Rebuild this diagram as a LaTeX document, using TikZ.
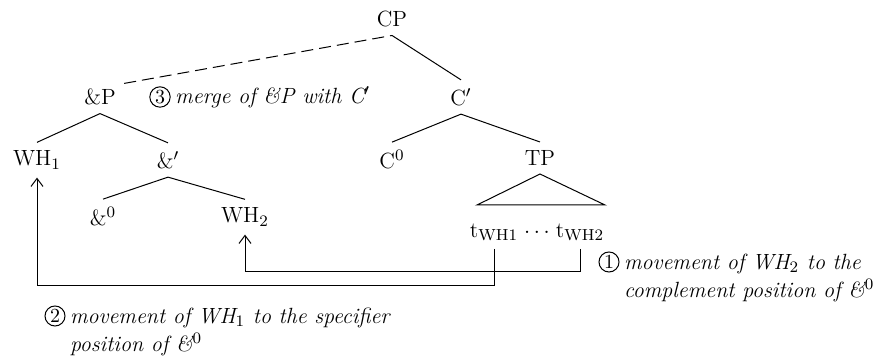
\documentclass[tikz,border=0pt]{standalone}
\usetikzlibrary{arrows.meta,positioning}
\begin{document}
\begin{tikzpicture}[x=0.5pt,y=-0.5pt,line width=0.5pt,
  font=\fontsize{11}{13}\selectfont,
  cat/.style={inner xsep=1pt,inner ysep=4pt},
  move/.style={-{Straight Barb[length=4pt,width=6pt]}},
  note/.style={font=\fontsize{11}{14}\selectfont\itshape,align=left,inner sep=0pt,anchor=north west},
  numc/.style={circle,draw,inner sep=0.6pt,font=\fontsize{10}{12}\selectfont}]
\useasboundingbox (0,0) rectangle (878,356);
% tree
\node[cat] (cp) at (392,19) {CP};
\node[cat] (cbar) at (461,97) {C$'$};
\node[cat] (andp) at (100,97) {\&P};
\node[cat] (wh1) at (37,160) {WH$_1$};
\node[cat] (andbar) at (168,160) {\&$'$};
\node[cat] (c0) at (392,160) {C$^0$};
\node[cat] (tp) at (540,158) {TP};
\node[cat] (and0) at (103,217) {\&$^0$};
\node[cat] (wh2) at (245,217) {WH$_2$};
\node[cat] (t1) at (494,232) {t$_{\mathrm{WH1}}$};
\node[cat] (dots) at (537,232) {$\ldots$};
\node[cat] (t2) at (580,232) {t$_{\mathrm{WH2}}$};
\draw (cp.south)--(cbar.north);
\draw (cbar.south)--(c0.north);
\draw (cbar.south)--(tp.north);
\draw (andp.south)--(wh1.north);
\draw (andp.south)--(andbar.north);
\draw (andbar.south)--(and0.north);
\draw (andbar.south)--(wh2.north);
\draw[dashed,dash pattern=on 6pt off 3pt] ([xshift=3pt,yshift=-1.5pt]andp.north east)--(cp.south);
\coordinate (tl) at (477,205);
\coordinate (tr) at (605,205);
\draw (tl)--(tp.south)--(tr)--cycle;
% movements
\coordinate (low1) at (0,286);
\coordinate (low2) at (0,272);
\draw[move] (t1.south)--(t1.south|-low1)-|(wh1.south);
\draw[move] (t2.south)--(t2.south|-low2)-|(wh2.south);
% notes
\node[numc] (n3) at (160,97) {3};
\node[note,anchor=base west] (m3) at ([xshift=2pt]n3.base east) {merge of \&P with C$'$};
\node[numc] (n1) at (609,262) {1};
\node[note] (m1) at ([xshift=2pt,yshift=-1pt]n1.north -| n1.east) {movement of WH$_2$ to the\\complement position of \&$^0$};
\node[numc] (n2) at (55,316) {2};
\node[note] (m2) at ([xshift=2pt,yshift=-1pt]n2.north -| n2.east) {movement of WH$_1$ to the specifier\\position of \&$^0$};
\end{tikzpicture}
\end{document}
